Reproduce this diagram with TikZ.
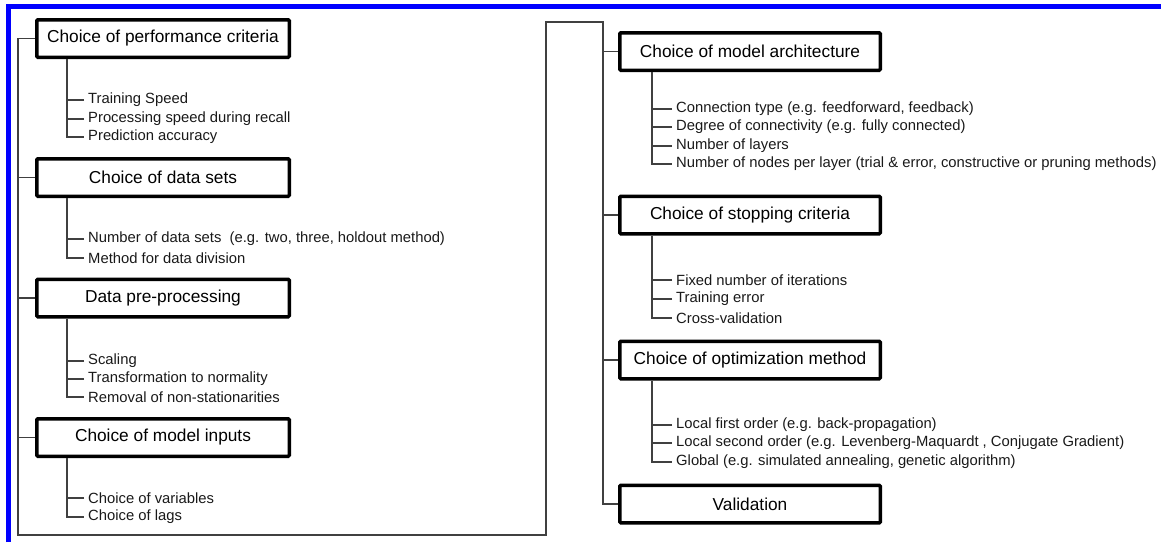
\documentclass[tikz,border=0pt]{standalone}
\usepackage{fontspec}
\setmainfont{Liberation Sans}
\begin{document}
\begin{tikzpicture}[x=1pt,y=-1pt,
  stage/.style={draw=black,line width=3.5pt,rounded corners=1pt,minimum height=37.5pt,inner sep=0pt,font=\fontsize{17.3}{20}\selectfont},
  lstage/.style={stage,minimum width=252.5pt},
  rstage/.style={stage,minimum width=260.5pt},
  item/.style={anchor=west,inner xsep=4pt,inner ysep=0pt,font=\fontsize{14.8}{17}\selectfont,text=black!90},
  link/.style={draw=black!75,line width=1.1pt}]
\useasboundingbox (0,0) rectangle (1161,542);
\draw[blue,line width=5.5pt] (8.5,542) -- (8.5,6.5) -- (1161,6.5);

% left column
\node[lstage] (pc) at (163,38.5){Choice of performance criteria};
\node[item] (pc1) at (84,100){Training Speed};
\node[item] (pc2) at (84,119){Processing speed during recall};
\node[item] (pc3) at (84,137){Prediction accuracy};
\node[lstage] (ds) at (163,177.5){Choice of data sets};
\node[item] (ds1) at (84,239){Number of data sets\ \ (e.g. two, three, holdout method)};
\node[item] (ds2) at (84,258){Method for data division};
\node[lstage] (pp) at (163,298){Data pre-processing};
\node[item] (pp1) at (84,361){Scaling};
\node[item] (pp2) at (84,379){Transformation to normality};
\node[item] (pp3) at (84,397){Removal of non-stationarities};
\node[lstage] (mi) at (163,437.5){Choice of model inputs};
\node[item] (mi1) at (84,498){Choice of variables};
\node[item] (mi2) at (84,517){Choice of lags};

% right column
\node[rstage] (ma) at (750,51.5){Choice of model architecture};
\node[item] (ma1) at (672,109){Connection type (e.g. feedforward, feedback)};
\node[item] (ma2) at (672,127){Degree of connectivity (e.g. fully connected)};
\node[item] (ma3) at (672,146){Number of layers};
\node[item] (ma4) at (672,164){Number of nodes per layer (trial \& error, constructive or pruning methods)};
\node[rstage] (sc) at (750,215){Choice of stopping criteria};
\node[item] (sc1) at (672,280){Fixed number of iterations};
\node[item] (sc2) at (672,299){Training error};
\node[item] (sc3) at (672,318){Cross-validation};
\node[rstage] (om) at (750,360){Choice of optimization method};
\node[item] (om1) at (672,425){Local first order (e.g. back-propagation)};
\node[item] (om2) at (672,443){Local second order (e.g. Levenberg-Maquardt , Conjugate Gradient)};
\node[item] (om3) at (672,462){Global (e.g. simulated annealing, genetic algorithm)};
\node[rstage] (val) at (750,504){Validation};

% main line
\coordinate (bl) at (18,535);
\coordinate (br) at (546,535);
\coordinate (tr) at (546,22);
\coordinate (tl) at (603,22);
\draw[link] (pc.west) -| (bl) -- (br) -- (tr) -- (tl) |- (val.west);
\draw[link] (ds.west) -- (ds.west -| bl)  (pp.west) -- (pp.west -| bl)  (mi.west) -- (mi.west -| bl);
\draw[link] (ma.west) -- (ma.west -| tl)  (sc.west) -- (sc.west -| tl)  (om.west) -- (om.west -| tl);

% branches
\draw[link] ([xshift=32pt]pc.south west) |- (pc3.west)  (pc1.west) -- ++(-17,0)  (pc2.west) -- ++(-17,0);
\draw[link] ([xshift=32pt]ds.south west) |- (ds2.west)  (ds1.west) -- ++(-17,0);
\draw[link] ([xshift=32pt]pp.south west) |- (pp3.west)  (pp1.west) -- ++(-17,0)  (pp2.west) -- ++(-17,0);
\draw[link] ([xshift=32pt]mi.south west) |- (mi2.west)  (mi1.west) -- ++(-17,0);
\draw[link] ([xshift=34pt]ma.south west) |- (ma4.west)  (ma1.west) -- ++(-20,0)  (ma2.west) -- ++(-20,0)  (ma3.west) -- ++(-20,0);
\draw[link] ([xshift=34pt]sc.south west) |- (sc3.west)  (sc1.west) -- ++(-20,0)  (sc2.west) -- ++(-20,0);
\draw[link] ([xshift=34pt]om.south west) |- (om3.west)  (om1.west) -- ++(-20,0)  (om2.west) -- ++(-20,0);

\end{tikzpicture}
\end{document}
